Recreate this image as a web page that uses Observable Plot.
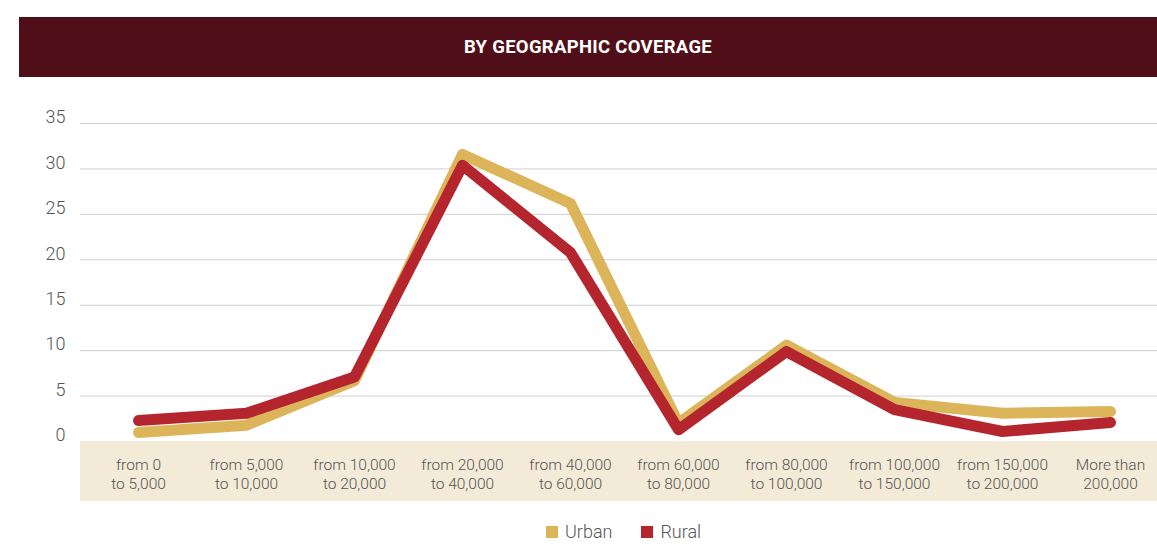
<!DOCTYPE html>
<html>
<head>
<meta charset="utf-8">
<script src="https://cdn.jsdelivr.net/npm/d3@7"></script>
<script src="https://cdn.jsdelivr.net/npm/@observablehq/plot@0.6"></script>
<style>
  html, body { margin: 0; padding: 0; background: #fff; overflow: hidden; }
  body { width: 1157px; height: 549px; position: relative; font-family: Roboto, "Noto Sans", sans-serif; }
  #banner { position: absolute; left: 19px; top: 17px; width: 1138px; height: 60px; background: #500f18;
            color: #fff; font-weight: 700; font-size: 18.5px; letter-spacing: 0.3px; display: flex; align-items: center; justify-content: center; }
  #band { position: absolute; left: 80px; top: 441px; width: 1077px; height: 60px; background: #f3ead7; }
  #chart { position: absolute; left: 0; top: 0; }
  #legend { position: absolute; left: 546px; top: 521px; display: flex; gap: 29px;
            font-size: 18px; font-weight: 300; color: #555; }
  #legend span.item { display: inline-flex; align-items: center; }
  #legend i { display: inline-block; width: 12px; height: 12px; margin-right: 7px; }
</style>
</head>
<body>
<div id="banner">BY GEOGRAPHIC COVERAGE</div>
<div id="band"></div>
<div id="chart"></div>
<div id="legend"></div>
<script>
const categories = [
  "from 0\nto 5,000", "from 5,000\nto 10,000", "from 10,000\nto 20,000", "from 20,000\nto 40,000",
  "from 40,000\nto 60,000", "from 60,000\nto 80,000", "from 80,000\nto 100,000", "from 100,000\nto 150,000",
  "from 150,000\nto 200,000", "More than\n200,000"
];
const urban = [1.0, 1.8, 6.7, 31.6, 26.2, 2.0, 10.6, 4.3, 3.1, 3.3];
const rural = [2.3, 3.1, 7.1, 30.4, 20.8, 1.3, 9.9, 3.5, 1.1, 2.1];
const yTicks = [0, 5, 10, 15, 20, 25, 30, 35];
const seriesNames = ["Urban", "Rural"];
const seriesColors = ["#dcb55b", "#b5252e"];

const data = [];
categories.forEach((c, i) => {
  data.push({cat: c, series: "Urban", value: urban[i]});
  data.push({cat: c, series: "Rural", value: rural[i]});
});

const chart = Plot.plot({
  width: 1157,
  height: 549,
  marginTop: 123,
  marginBottom: 108,
  marginLeft: 80,
  marginRight: 0,
  style: {background: "transparent", fontFamily: "Roboto, 'Noto Sans', sans-serif", color: "#555"},
  x: {type: "point", domain: categories, range: [134, 1114], padding: 0},
  y: {domain: [0, 35]},
  color: {domain: seriesNames, range: seriesColors},
  marks: [
    Plot.gridY(yTicks.filter(d => d > 0), {stroke: "#cfcfcf", strokeOpacity: 1, strokeWidth: 1}),
    Plot.axisY(yTicks, {tickSize: 0, tickPadding: 15, fontSize: 18, fontWeight: 300, fill: "#555", dy: -6, label: null}),
    Plot.axisX({tickSize: 0, tickPadding: 16, fontSize: 15.5, fontWeight: 300, fill: "#555", label: null, lineHeight: 1.17}),
    Plot.line(data, {x: "cat", y: "value", z: "series", stroke: "series", strokeWidth: 11,
      strokeLinecap: "round", strokeLinejoin: "round", sort: {channel: "z", order: "descending"}})
  ]
});
document.getElementById("chart").appendChild(chart);

const legend = document.getElementById("legend");
seriesNames.forEach((n, i) => {
  const s = document.createElement("span");
  s.className = "item";
  s.innerHTML = `<i style="background:${seriesColors[i]}"></i>${n}`;
  legend.appendChild(s);
});
</script>
</body>
</html>
